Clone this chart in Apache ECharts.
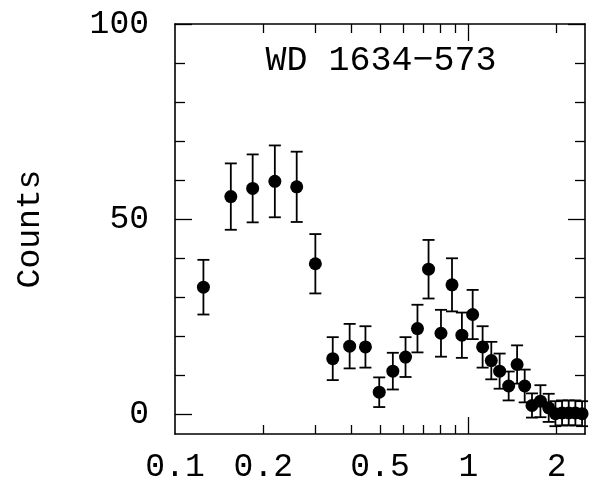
<!DOCTYPE html>
<html>
<head>
<meta charset="utf-8">
<script src="https://cdn.jsdelivr.net/npm/echarts@6/dist/echarts.min.js"></script>
<style>
  html, body { margin: 0; padding: 0; background: #fff; }
  #chart { width: 590px; height: 483px; }
</style>
</head>
<body>
<div id="chart"></div>
<script>
// Energy bins (keV), counts and 1-sigma errors for WD 1634-573
const energy = [0.125, 0.155, 0.184, 0.219, 0.260, 0.301, 0.345, 0.394, 0.446, 0.497,
                0.553, 0.611, 0.671, 0.732, 0.807, 0.880, 0.951, 1.035, 1.119, 1.198,
                1.279, 1.373, 1.467, 1.557, 1.649, 1.762, 1.880, 1.982, 2.088, 2.200,
                2.318, 2.443];
const counts = [32.6, 55.8, 57.9, 59.7, 58.3, 38.6, 14.3, 17.5, 17.3, 5.7,
                11.1, 14.7, 22.0, 37.2, 20.8, 33.2, 20.3, 25.6, 17.3, 13.8,
                11.1, 7.3, 12.8, 7.3, 2.3, 3.4, 1.7, 0.2, 0.4, 0.4,
                0.4, 0.2];
const errors = [7.0, 8.5, 8.7, 9.2, 9.0, 7.6, 5.5, 5.7, 5.3, 3.8,
                4.7, 5.1, 6.1, 7.5, 6.0, 6.8, 5.8, 6.3, 5.3, 4.8,
                4.5, 3.7, 4.9, 4.2, 3.1, 4.1, 3.6, 3.2, 3.2, 3.2,
                3.2, 3.2];

// Axis tick and label values
const xLabelValues = [0.1, 0.2, 0.5, 1, 2];
const xMinorTicks = [0.2, 0.3, 0.4, 0.5, 0.6, 0.7, 0.8, 0.9, 2];
const xMajorTicks = [1];
const yLabelValues = [0, 50, 100];
const yMinorTicks = [10, 20, 30, 40, 60, 70, 80, 90];
const yMajorTicks = [0, 50, 100];

const titleText = 'WD 1634\u2212573';
const yName = 'Counts';

const FONT = 'Liberation Mono';
const INK = '#000';

const points = energy.map((e, i) => [e, counts[i]]);
const bars = energy.map((e, i) => [e, counts[i] - errors[i], counts[i] + errors[i]]);

function xAxisDef(position, ticks, len, withLine, withLabels) {
  return {
    type: 'log', logBase: 10, min: 0.1, max: 2.5, position: position,
    axisLine: { show: withLine, onZero: false, lineStyle: { color: INK, width: 1.6 } },
    axisTick: { show: true, inside: true, length: len, customValues: ticks,
                lineStyle: { color: INK, width: 1.3 } },
    axisLabel: withLabels ? {
      show: true, customValues: xLabelValues, margin: 17,
      fontFamily: FONT, fontSize: 33, color: INK,
      formatter: v => String(Math.round(v * 10) / 10)
    } : { show: false },
    splitLine: { show: false }, minorTick: { show: false }
  };
}

function yAxisDef(position, ticks, len, withLine, withLabels) {
  const ax = {
    type: 'value', min: -5, max: 100, position: position,
    axisLine: { show: withLine, onZero: false, lineStyle: { color: INK, width: 1.6 } },
    axisTick: { show: true, inside: true, length: len, customValues: ticks,
                lineStyle: { color: INK, width: 1.3 } },
    axisLabel: withLabels ? {
      show: true, customValues: yLabelValues, margin: 26,
      fontFamily: FONT, fontSize: 33, color: INK
    } : { show: false },
    splitLine: { show: false }
  };
  if (withLabels) {
    ax.name = yName;
    ax.nameLocation = 'middle';
    ax.nameRotate = 90;
    ax.nameGap = 128;
    ax.nameTextStyle = { fontFamily: FONT, fontSize: 33, color: INK };
  }
  return ax;
}

const chart = echarts.init(document.getElementById('chart'), null, { renderer: 'canvas' });

chart.setOption({
  animation: false,
  backgroundColor: '#fff',
  grid: { left: 175, right: 5, top: 24, bottom: 49, containLabel: false, outerBoundsMode: 'none' },
  xAxis: [
    xAxisDef('bottom', xMinorTicks, 9, true, true),
    xAxisDef('bottom', xMajorTicks, 17, false, false),
    xAxisDef('top', xMinorTicks, 9, true, false),
    xAxisDef('top', xMajorTicks, 17, false, false)
  ],
  yAxis: [
    yAxisDef('left', yMinorTicks, 10, true, true),
    yAxisDef('left', yMajorTicks, 17, false, false),
    yAxisDef('right', yMinorTicks, 10, true, false),
    yAxisDef('right', yMajorTicks, 17, false, false)
  ],
  graphic: [{
    type: 'text', x: 381, y: 61, z: 10,
    style: { text: titleText, fontFamily: FONT, fontSize: 35, fill: INK,
             align: 'center', verticalAlign: 'middle' }
  }],
  series: [
    {
      type: 'custom', name: 'errors', xAxisIndex: 0, yAxisIndex: 0,
      data: bars, clip: false,
      renderItem: function (params, api) {
        const x = api.value(0);
        const lo = api.coord([x, api.value(1)]);
        const hi = api.coord([x, api.value(2)]);
        const cap = 6;
        const style = { stroke: INK, lineWidth: 1.8, fill: null };
        return {
          type: 'group',
          children: [
            { type: 'line', shape: { x1: lo[0], y1: lo[1], x2: hi[0], y2: hi[1] }, style: style },
            { type: 'line', shape: { x1: lo[0] - cap, y1: lo[1], x2: lo[0] + cap, y2: lo[1] }, style: style },
            { type: 'line', shape: { x1: hi[0] - cap, y1: hi[1], x2: hi[0] + cap, y2: hi[1] }, style: style }
          ]
        };
      }
    },
    {
      type: 'scatter', name: 'counts', xAxisIndex: 0, yAxisIndex: 0,
      data: points, symbol: 'circle', symbolSize: 13, z: 5,
      itemStyle: { color: INK, opacity: 1 }
    }
  ]
});
</script>
</body>
</html>
